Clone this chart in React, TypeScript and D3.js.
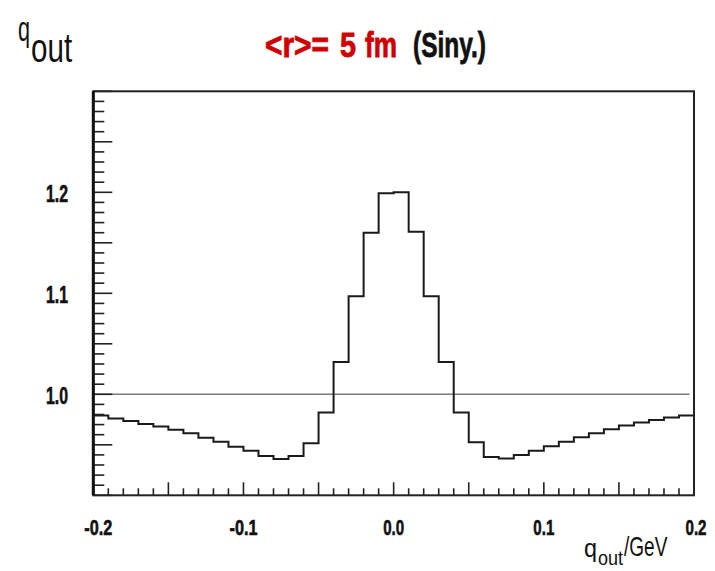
import React from "react";
import * as d3 from "d3";

const binEdgesLow = d3.range(40).map((i) => -0.2 + i * 0.01);
const binValues = [
  0.979, 0.976, 0.9735, 0.9705, 0.968, 0.965, 0.9615, 0.957, 0.953, 0.948,
  0.944, 0.939, 0.936, 0.939, 0.9515, 0.982, 1.032, 1.097, 1.16, 1.199,
  1.2, 1.161, 1.097, 1.032, 0.982, 0.9525, 0.938, 0.9365, 0.94, 0.944,
  0.9485, 0.953, 0.9575, 0.9615, 0.9655, 0.969, 0.972, 0.9745, 0.977, 0.979,
];
const xTickLabels = [-0.2, -0.1, 0.0, 0.1, 0.2];
const yTickLabels = [1.0, 1.1, 1.2];
const refLevel = 1.0;

const W = 715;
const H = 571;
const left = 93.3;
const right = 694;
const top = 91.3;
const bottom = 495.3;

export default function App() {
  const x = d3.scaleLinear().domain([-0.2, 0.2]).range([left, right]);
  const y = d3.scaleLinear().domain([0.9, 1.3]).range([bottom, top]);

  const pts: [number, number][] = binEdgesLow.map((lo, i) => [lo, binValues[i]]);
  pts.push([0.2, binValues[binValues.length - 1]]);
  const line = d3
    .line<[number, number]>()
    .x((d) => x(d[0]))
    .y((d) => y(d[1]))
    .curve(d3.curveStepAfter);

  const yTicks = d3.range(41).map((i) => ({ v: 0.9 + i * 0.01, long: i % 5 === 0 }));
  const xTicks = d3.range(41).map((i) => ({ v: -0.2 + i * 0.01, long: i % 5 === 0 }));

  const boldFont = "'Liberation Sans', Arial, sans-serif";

  return (
    <svg
      width={W}
      height={H}
      style={{ position: "absolute", left: 0, top: 0, background: "#fff" }}
    >
      <rect x={0} y={0} width={W} height={H} fill="#fff" />
      {/* title */}
      <g fontFamily={boldFont} fontWeight="bold" fontSize={35}>
        <text x={265} y={57} fill="#d00000" stroke="#d00000" strokeWidth={0.8} textLength={64} lengthAdjust="spacingAndGlyphs">
          {"<r>="}
        </text>
        <text x={340} y={57} fill="#d00000" stroke="#d00000" strokeWidth={0.8} textLength={16} lengthAdjust="spacingAndGlyphs">
          5
        </text>
        <text x={365} y={57} fill="#d00000" stroke="#d00000" strokeWidth={0.8} textLength={32} lengthAdjust="spacingAndGlyphs">
          fm
        </text>
        <text x={413} y={57} fill="#111" stroke="#111" strokeWidth={0.8} textLength={73} lengthAdjust="spacingAndGlyphs">
          (Siny.)
        </text>
      </g>
      {/* y axis title */}
      <g fontFamily={boldFont} fill="#111">
        <text transform="translate(18,41) scale(0.6,1)" fontSize={36}>q</text>
        <text transform="translate(31,62) scale(0.74,1)" fontSize={40}>out</text>
      </g>
      {/* x axis title */}
      <g fontFamily={boldFont} fill="#111">
        <text transform="translate(584,557) scale(0.9,1)" fontSize={26}>q</text>
        <text transform="translate(598,565) scale(0.9,1)" fontSize={20}>out</text>
        <text transform="translate(624,556) scale(0.68,1)" fontSize={28}>/GeV</text>
      </g>

      {/* reference line */}
      <line
        x1={x(-0.2)}
        x2={x(0.197)}
        y1={y(refLevel)}
        y2={y(refLevel)}
        stroke="#7a7a7a"
        strokeWidth={1.6}
      />

      {/* histogram */}
      <path d={line(pts) || ""} fill="none" stroke="#1a1a1a" strokeWidth={2} />

      {/* y ticks */}
      {yTicks.map((t, i) => (
        <line
          key={"yt" + i}
          x1={left}
          x2={left + (t.long ? 19 : 11)}
          y1={y(t.v)}
          y2={y(t.v)}
          stroke="#222"
          strokeWidth={1.6}
        />
      ))}
      {/* x ticks */}
      {xTicks.map((t, i) => (
        <line
          key={"xt" + i}
          x1={x(t.v)}
          x2={x(t.v)}
          y1={bottom}
          y2={bottom - (t.long ? 13 : 7)}
          stroke="#222"
          strokeWidth={1.6}
        />
      ))}

      {/* frame */}
      <rect
        x={left}
        y={top}
        width={right - left}
        height={bottom - top}
        fill="none"
        stroke="#222"
        strokeWidth={2}
      />
      <line x1={left} x2={left} y1={top} y2={bottom} stroke="#111" strokeWidth={3} />

      {/* y labels */}
      <g fontFamily={boldFont} fontWeight="bold" fontSize={24} fill="#111" stroke="#111" strokeWidth={0.6}>
        {yTickLabels.map((v) => (
          <text
            key={"yl" + v}
            x={46}
            y={y(v) + 10}
            textLength={22}
            lengthAdjust="spacingAndGlyphs"
          >
            {v.toFixed(1)}
          </text>
        ))}
      </g>
      {/* x labels */}
      <g fontFamily={boldFont} fontWeight="bold" fontSize={22} fill="#111" stroke="#111" strokeWidth={0.6}>
        {xTickLabels.map((v) => {
          const s = v < 0 ? "-" + Math.abs(v).toFixed(1) : v.toFixed(1);
          const len = v < 0 ? 28 : 21;
          return (
            <text
              key={"xl" + v}
              x={x(v) - len / 2 + (v === -0.2 ? 5 : 0) + (v === 0.2 ? 2 : 0)}
              y={535}
              textLength={len}
              lengthAdjust="spacingAndGlyphs"
            >
              {s}
            </text>
          );
        })}
      </g>
    </svg>
  );
}
